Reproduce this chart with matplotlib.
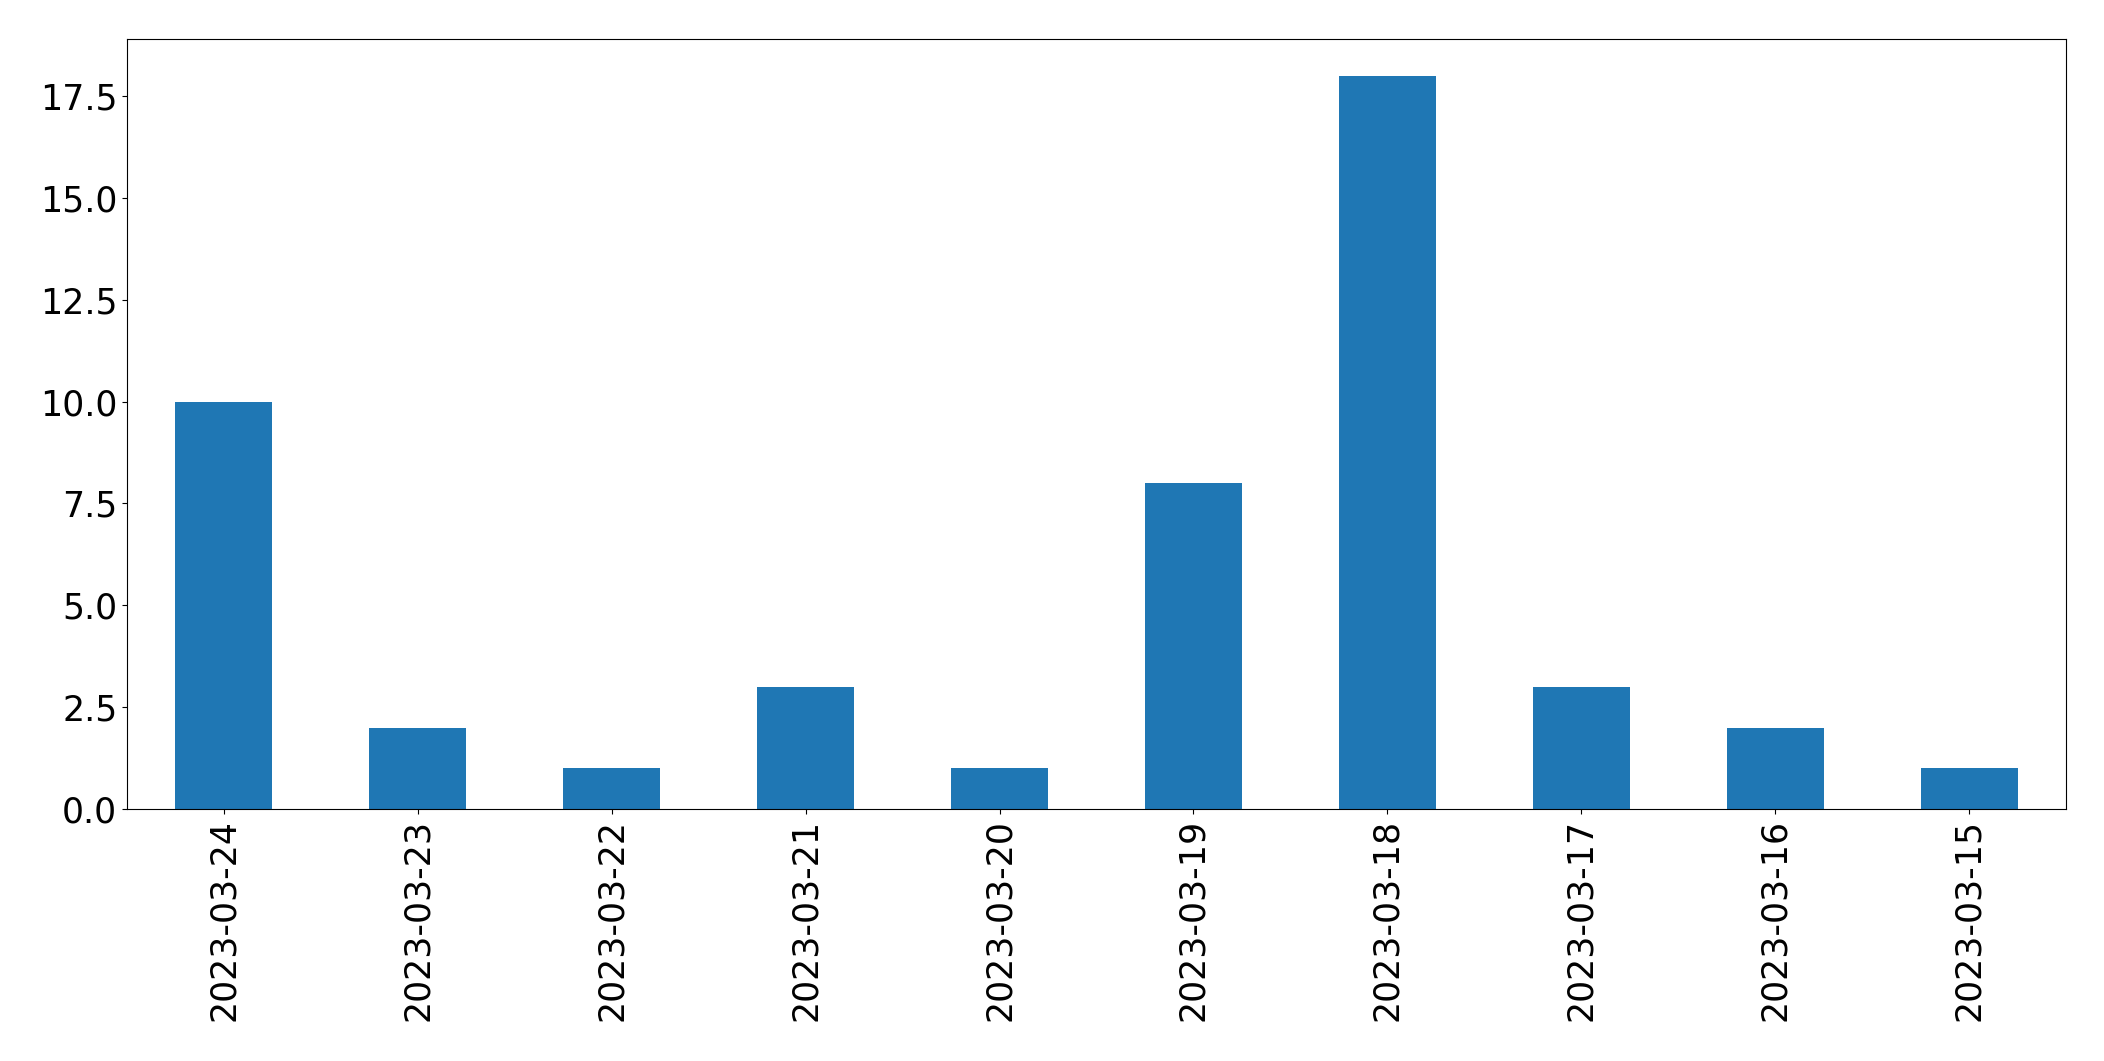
import matplotlib
matplotlib.use("Agg")
import matplotlib.pyplot as plt

dates = ["2023-03-24", "2023-03-23", "2023-03-22", "2023-03-21", "2023-03-20",
         "2023-03-19", "2023-03-18", "2023-03-17", "2023-03-16", "2023-03-15"]
counts = [10, 2, 1, 3, 1, 8, 18, 3, 2, 1]

fig = plt.figure(figsize=(21.04, 10.61), dpi=100)
ax = fig.add_axes([127/2104, 1-809/1061, (2066-127)/2104, (809-39)/1061])
x = list(range(len(dates)))
ax.bar(x, counts, width=0.5, color="#1f77b4")
ax.set_xlim(-0.5, len(dates) - 0.5)
ax.set_ylim(0, max(counts) * 1.05)
ax.set_xticks(x)
ax.set_xticklabels(dates, rotation=90)
ax.tick_params(axis="both", labelsize=25)
fig.savefig("out.png", dpi=100)
